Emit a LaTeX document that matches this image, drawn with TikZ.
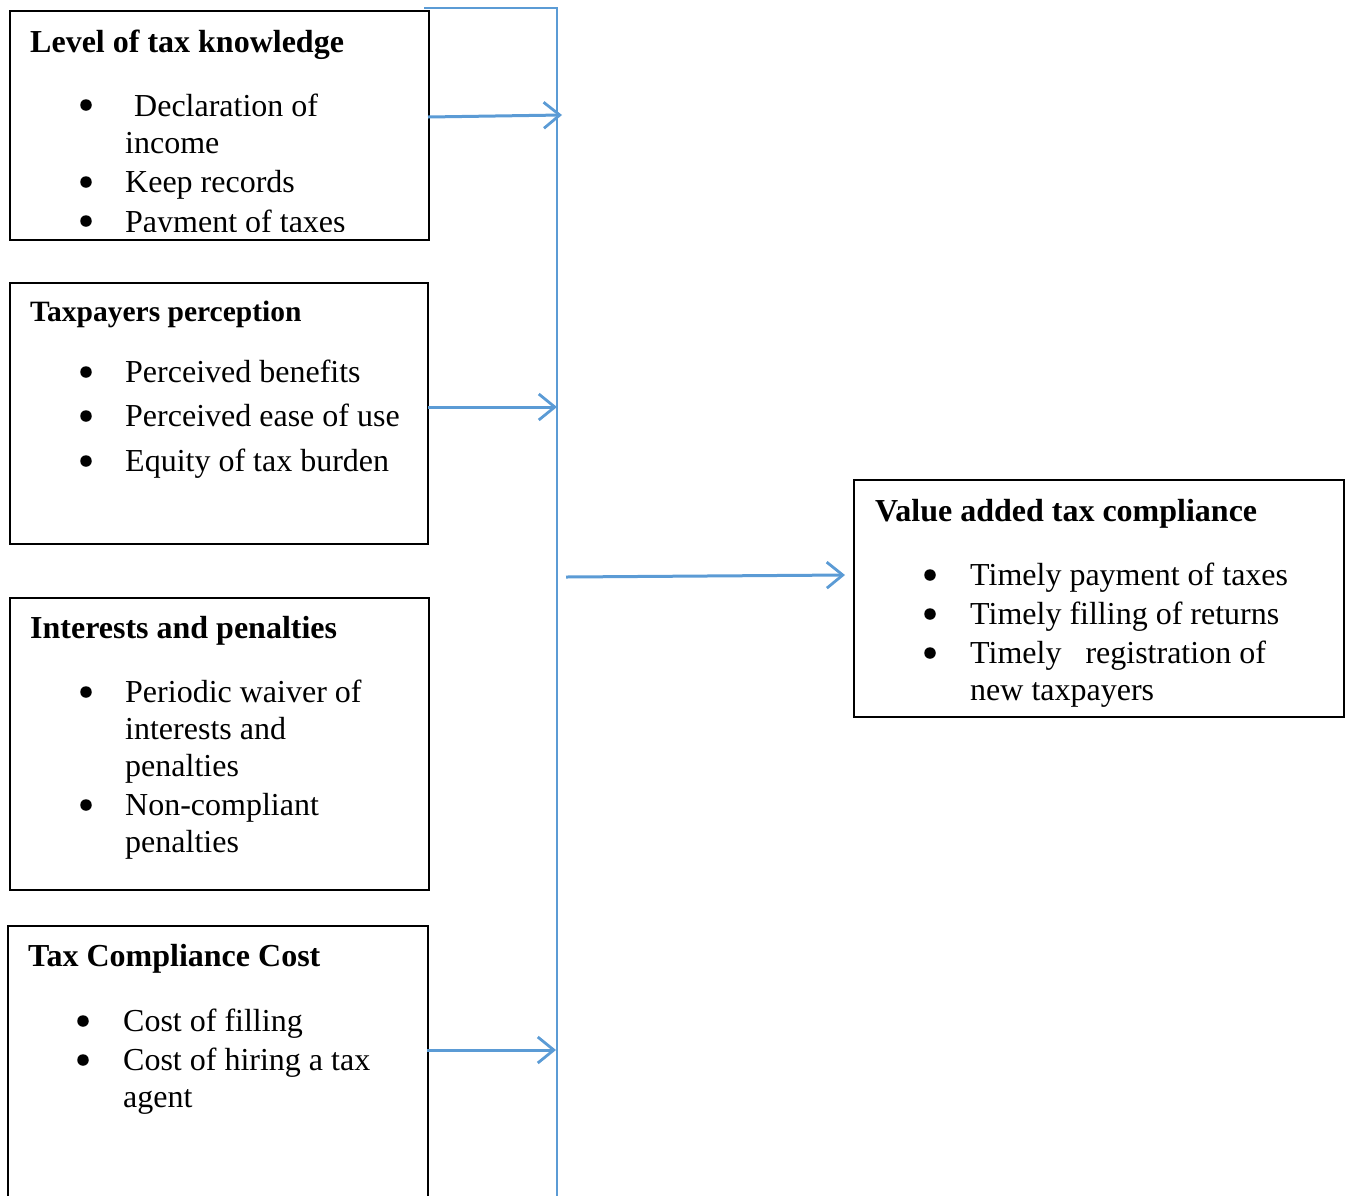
\documentclass[tikz,border=0pt]{standalone}
\usepackage{fontspec}
\setmainfont{Liberation Serif}
\usetikzlibrary{arrows.meta}
\definecolor{lineblue}{RGB}{91,155,213}
\tikzset{
  box/.style={draw=black, line width=1.8pt, anchor=north west, inner sep=0pt},
  txt/.style={anchor=base west, inner sep=0pt, font=\fontsize{32}{38}\selectfont},
  ttl/.style={anchor=base west, inner sep=0pt, font=\fontsize{32}{38}\selectfont\bfseries},
  bul/.style={circle, fill=black, inner sep=0pt, minimum size=11.5pt},
  conn/.style={draw=lineblue, line width=3pt, -{Straight Barb[length=16pt,width=26pt,line width=2.8pt]}},
  rail/.style={draw=lineblue, line width=1.3pt}
}
\begin{document}
\begin{tikzpicture}[x=1pt,y=-1pt]
\useasboundingbox (0,0) rectangle (1348,1195);
\clip (0,0) rectangle (1348,1195);
% boxes
\node[box, minimum width=419pt, minimum height=229pt] (b1) at (9,10) {};
\node[box, minimum width=418pt, minimum height=261pt] (b2) at (9,282) {};
\node[box, minimum width=419pt, minimum height=292pt] (b3) at (9,597) {};
\node[box, minimum width=420pt, minimum height=300pt] (b4) at (7,925) {};
\node[box, minimum width=490pt, minimum height=237pt] (b5) at (853,479) {};
% box 1 text (clipped)
\begin{scope}
\clip (9,10) rectangle (428,231);
\node[ttl] (t1) at (30,52) {Level of tax knowledge};
\node[bul] (p11) at (86,105) {};
\node[txt] (i11) at (134,116) {Declaration of};
\node[txt] (i11b) at (125,153) {income};
\node[bul] (p12) at (86,182) {};
\node[txt] (i12) at (125,192) {Keep records};
\node[bul] (p13) at (86,221) {};
\node[txt] (i13) at (125,232) {Payment of taxes};
\end{scope}
% box 2
\node[ttl, font=\fontsize{29.5}{34}\selectfont\bfseries] (t2) at (30,321) {Taxpayers perception};
\node[bul] (p21) at (86,372) {};
\node[txt] (i21) at (125,382) {Perceived benefits};
\node[bul] (p22) at (86,416) {};
\node[txt] (i22) at (125,426) {Perceived ease of use};
\node[bul] (p23) at (86,461) {};
\node[txt] (i23) at (125,471) {Equity of tax burden};
% box 3
\node[ttl] (t3) at (30,638) {Interests and penalties};
\node[bul] (p31) at (86,692) {};
\node[txt] (i31) at (125,702) {Periodic waiver of};
\node[txt] (i31b) at (125,739) {interests and};
\node[txt] (i31c) at (125,776) {penalties};
\node[bul] (p32) at (86,805) {};
\node[txt] (i32) at (125,815) {Non-compliant};
\node[txt] (i32b) at (125,852) {penalties};
% box 4
\node[ttl] (t4) at (28,966) {Tax Compliance Cost};
\node[bul] (p41) at (83,1021) {};
\node[txt] (i41) at (123,1031) {Cost of filling};
\node[bul] (p42) at (83,1060) {};
\node[txt] (i42) at (123,1070) {Cost of hiring a tax};
\node[txt] (i42b) at (123,1107) {agent};
% box 5
\node[ttl] (t5) at (875,521) {Value added tax compliance};
\node[bul] (p51) at (930,575) {};
\node[txt] (i51) at (970,585) {Timely payment of taxes};
\node[bul] (p52) at (930,614) {};
\node[txt] (i52) at (970,624) {Timely filling of returns};
\node[bul] (p53) at (930,653) {};
\node[txt] (i53) at (970,663) {Timely\hspace{24pt}registration of};
\node[txt] (i53b) at (970,700) {new taxpayers};
% rail
\coordinate (rtl) at (424,8);
\coordinate (rt) at (557,8);
\coordinate (rb) at (557,1200);
\draw[rail] (rtl) -- (rt) -- (rb);
% arrow coordinates
\coordinate (s1) at (428,117);
\coordinate (e1) at (562,115);
\coordinate (s2) at (428,407);
\coordinate (e2) at (557,407);
\coordinate (s3) at (566,577);
\coordinate (e3) at (845,575);
\coordinate (s4) at (427,1050);
\coordinate (e4) at (556,1050);
\draw[conn] (s1) -- (e1);
\draw[conn] (s2) -- (e2);
\draw[conn] (s3) -- (e3);
\draw[conn] (s4) -- (e4);
\end{tikzpicture}
\end{document}
